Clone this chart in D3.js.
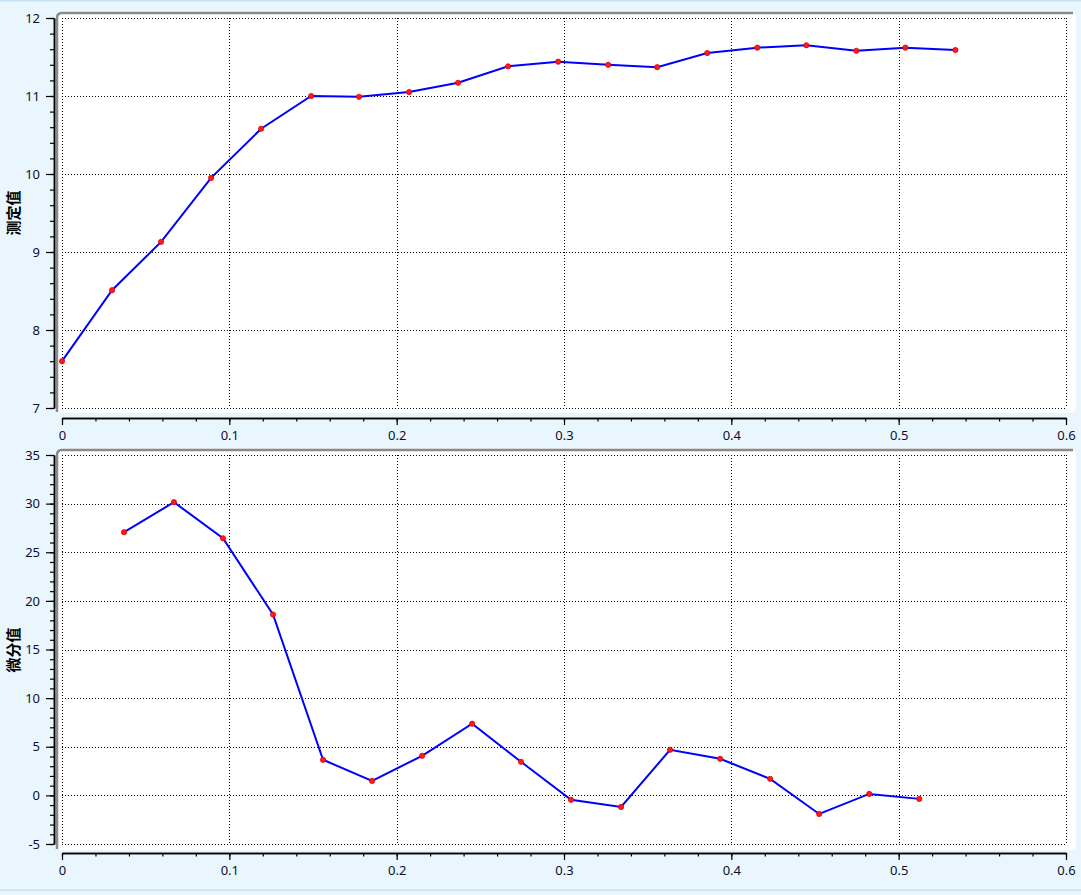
<!DOCTYPE html>
<html><head><meta charset="utf-8">
<script src="https://cdn.jsdelivr.net/npm/d3@7"></script>
<style>
html,body{margin:0;padding:0;background:#eaf6fd;}
svg{display:block;}
</style></head>
<body>
<svg id="c" width="1081" height="895"></svg>
<script>
// ---- data ----
const topX = [0, 0.0299, 0.0592, 0.0891, 0.1190, 0.1489, 0.1775, 0.2074, 0.2367, 0.2666, 0.2965, 0.3264, 0.3557, 0.3856, 0.4155, 0.4448, 0.4747, 0.5040, 0.5339];
const topY = [7.60, 8.51, 9.13, 9.95, 10.58, 11.00, 10.99, 11.05, 11.17, 11.38, 11.44, 11.40, 11.37, 11.55, 11.62, 11.65, 11.58, 11.62, 11.59];
const botX = [0.0371, 0.0669, 0.0962, 0.1261, 0.1560, 0.1853, 0.2152, 0.2451, 0.2743, 0.3042, 0.3341, 0.3634, 0.3933, 0.4232, 0.4525, 0.4824, 0.5123];
const botY = [27.06, 30.15, 26.44, 18.6, 3.66, 1.49, 4.07, 7.37, 3.45, -0.46, -1.19, 4.69, 3.76, 1.70, -1.91, 0.15, -0.36];
const xTicks = [0, 0.1, 0.2, 0.3, 0.4, 0.5, 0.6];
const topYTicks = [7, 8, 9, 10, 11, 12];
const botYTicks = [-5, 0, 5, 10, 15, 20, 25, 30, 35];
const topTitle = "测定值";
const botTitle = "微分值";

const svg = d3.select("#c");
const fmt = d => String(+(+d).toFixed(2));
// page edges
svg.append("rect").attr("x",0).attr("y",0).attr("width",1081).attr("height",1.5).attr("fill","#c6e0f3");
svg.append("rect").attr("x",0).attr("y",889.5).attr("width",1081).attr("height",1.5).attr("fill","#c6e0f3");

function panel(cfg){
  const x = d3.scaleLinear().domain([0,0.6]).range([62,1066]);
  const y = d3.scaleLinear().domain(cfg.yDom).range(cfg.yRange);
  const g = svg.append("g");
  const p = cfg.panel;
  // white panel
  g.append("rect").attr("x",p.x0).attr("y",p.y0).attr("width",p.x1-p.x0).attr("height",p.y1-p.y0)
    .attr("rx",5).attr("fill","#fff");
  // grey top/left border
  g.append("path").attr("d",`M${p.x0+1},${p.y1-1} V${p.y0+6} Q${p.x0+1},${p.y0+1} ${p.x0+6},${p.y0+1} H${p.x1-3}`)
    .attr("fill","none").attr("stroke","#8a8a8a").attr("stroke-width",2.5);
  // grid
  const grid = g.append("g").attr("stroke","#000").attr("stroke-width",1).attr("stroke-dasharray","1,2").attr("fill","none");
  xTicks.forEach(t=>{
    grid.append("line").attr("x1",Math.round(x(t))+0.5).attr("x2",Math.round(x(t))+0.5)
      .attr("y1",y.range()[1]).attr("y2",y.range()[0]);
  });
  cfg.yTicks.forEach(t=>{
    grid.append("line").attr("y1",Math.round(y(t))+0.5).attr("y2",Math.round(y(t))+0.5)
      .attr("x1",x(0)).attr("x2",x(0.6));
  });
  // y axis
  const axX = 54;
  const yMinor = d3.range(cfg.yDom[0], cfg.yDom[1]+1e-9, cfg.yMinorStep);
  g.append("g").attr("transform",`translate(${axX},0)`)
    .call(d3.axisLeft(y).tickValues(yMinor).tickSize(4).tickSizeOuter(0).tickFormat(""));
  g.append("g").attr("transform",`translate(${axX},0)`)
    .call(d3.axisLeft(y).tickValues(cfg.yTicks).tickSize(8).tickSizeOuter(0).tickPadding(6).tickFormat(fmt));
  // x axis
  const xMinor = d3.range(0, 0.6+1e-9, 0.02);
  g.append("g").attr("transform",`translate(0,${cfg.xAxisY})`)
    .call(d3.axisBottom(x).tickValues(xMinor).tickSize(3.5).tickSizeOuter(0).tickFormat(""));
  g.append("g").attr("transform",`translate(0,${cfg.xAxisY})`)
    .call(d3.axisBottom(x).tickValues(xTicks).tickSize(7).tickSizeOuter(0).tickPadding(6).tickFormat(fmt));
  g.selectAll(".domain").attr("stroke","#000").attr("stroke-width",1.5);
  g.selectAll(".tick line").attr("stroke","#000").attr("stroke-width",1.2);
  g.selectAll(".tick text").attr("fill","#0a1030").style("font-family","'Noto Sans','Open Sans',sans-serif").style("font-size","13px");
  // title
  g.append("text").attr("transform",`translate(19,${cfg.titleY}) rotate(-90)`)
    .attr("text-anchor","middle").attr("font-family","'Noto Sans CJK SC',sans-serif")
    .attr("font-weight","bold").attr("font-size","15px").attr("fill","#000").text(cfg.title);
  // line
  const data = cfg.xs.map((d,i)=>[d,cfg.ys[i]]);
  g.append("path").datum(data).attr("fill","none").attr("stroke","#0000ff").attr("stroke-width",2)
    .attr("d", d3.line().x(d=>x(d[0])).y(d=>y(d[1])));
  g.selectAll("circle.pt").data(data).enter().append("circle")
    .attr("cx",d=>x(d[0])).attr("cy",d=>y(d[1])).attr("r",2.6)
    .attr("fill","#ff1a1a").attr("stroke","#e00000").attr("stroke-width",0.8);
}

panel({yDom:[7,12], yRange:[408,18], yTicks:topYTicks, yMinorStep:0.2,
  panel:{x0:56,y0:12,x1:1076,y1:413}, xAxisY:418, titleY:213, title:topTitle, xs:topX, ys:topY});
panel({yDom:[-5,35], yRange:[844,455], yTicks:botYTicks, yMinorStep:1,
  panel:{x0:56,y0:449,x1:1076,y1:850}, xAxisY:853, titleY:650, title:botTitle, xs:botX, ys:botY});
</script>
</body></html>
